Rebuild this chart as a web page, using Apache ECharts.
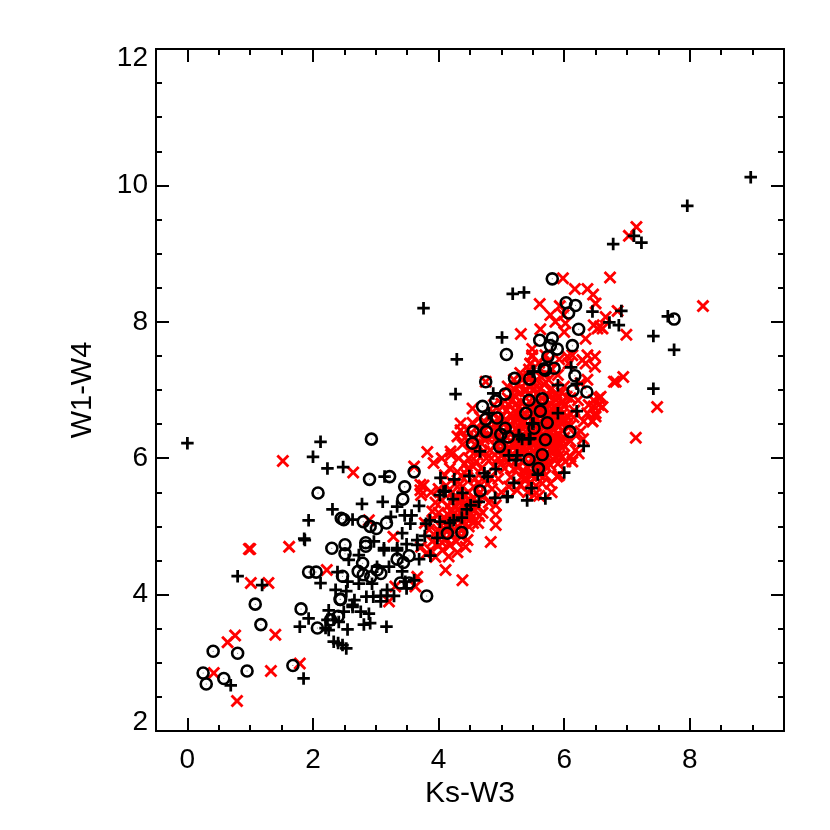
<!DOCTYPE html>
<html><head><meta charset="utf-8">
<style>html,body{margin:0;padding:0;background:#fff}#c{width:830px;height:830px}</style>
<script src="https://cdn.jsdelivr.net/npm/echarts@6/dist/echarts.min.js"></script>
</head><body><div id="c"></div>
<script>
const xMajorTicks=[0,2,4,6,8];
const xMinorTicks=[-0.5,0.5,1,1.5,2.5,3,3.5,4.5,5,5.5,6.5,7,7.5,8.5,9,9.5];
const yMajorTicks=[2,4,6,8,10,12];
const xTitle="Ks-W3", yTitle="W1-W4";
const redPoints=[[1.0,4.67],[0.98,4.67],[1.62,4.70],[2.22,4.36],[1.01,4.17],[1.29,4.17],[1.40,3.41],[0.76,3.40],[0.64,3.30],[1.79,2.99],[1.33,2.88],[0.42,2.85],[0.79,2.44],[1.52,5.96],[2.64,5.79],[2.89,5.09],[3.28,4.85],[3.82,6.09],[3.92,5.93],[3.61,5.88],[4.19,6.10],[3.71,5.61],[3.71,5.53],[3.72,5.46],[3.63,4.12],[3.31,4.12],[3.21,3.90],[4.11,4.36],[3.87,4.65],[3.66,4.26],[4.38,4.21],[4.83,4.77],[4.91,5.02],[4.91,5.17],[4.91,5.31],[4.63,5.05],[4.16,4.56],[4.43,4.70],[4.46,4.80],[4.06,4.65],[4.54,6.73],[4.35,6.51],[4.35,6.41],[4.75,7.12],[5.49,7.51],[5.46,7.39],[5.44,7.30],[5.70,7.51],[6.82,7.12],[6.58,6.90],[6.47,6.85],[6.39,6.78],[6.55,6.78],[6.37,6.66],[6.50,6.66],[6.31,6.54],[6.45,6.54],[6.26,6.39],[6.18,6.34],[6.23,6.07],[6.10,6.02],[6.02,5.95],[6.13,5.95],[5.97,6.02],[5.89,5.73],[5.78,5.63],[5.65,5.63],[5.52,5.46],[5.25,5.53],[5.98,8.64],[6.73,8.65],[6.17,8.48],[6.37,8.48],[6.46,8.40],[6.50,8.27],[5.61,8.26],[5.93,8.23],[5.78,8.10],[5.99,8.10],[5.86,8.00],[6.02,7.98],[6.00,7.85],[5.62,7.89],[5.31,7.82],[6.47,7.95],[6.57,7.93],[6.61,7.90],[6.53,7.90],[6.66,8.07],[6.85,8.16],[6.99,7.81],[6.34,7.75],[5.49,7.60],[5.49,7.49],[5.46,7.38],[6.13,7.51],[6.05,7.49],[6.07,7.39],[6.37,7.51],[6.29,7.44],[6.49,7.49],[6.49,7.34],[6.34,7.39],[6.79,7.12],[6.94,7.19],[6.37,7.15],[6.26,7.10],[7.15,9.39],[7.03,9.26],[8.21,8.23],[7.48,6.75],[7.14,6.30],[6.55,6.88],[6.61,6.75],[6.47,6.76],[6.50,6.61],[6.45,6.54],
[3.72,4.70],[3.80,4.60],[3.90,4.78],[3.95,4.55],[4.00,4.72],[4.05,4.85],[4.10,4.95],[3.85,4.95],[3.78,5.05],[3.92,5.10],[4.00,5.20],[4.10,5.12],[4.18,5.02],[4.22,4.88],[4.28,4.78],[4.30,5.00],[4.35,5.20],[4.25,5.30],[4.15,5.30],[4.05,5.38],[3.95,5.35],[3.88,5.50],[3.76,5.60],[4.00,5.55],[4.12,5.60],[4.22,5.50],[4.30,5.42],[4.42,5.35],[4.50,5.20],[4.55,5.05],[4.38,5.58],[4.48,5.50],[4.55,5.42],[4.62,5.30],[4.70,5.20],[4.72,5.45],[4.66,5.60],[4.58,5.70],[4.45,5.75],[4.30,5.80],[4.18,5.85],[4.10,5.75],[4.05,6.00],[4.20,6.05],[4.32,6.00],[4.42,5.92],[4.55,5.88],[4.68,5.85],[4.78,5.62],[4.85,5.55],[4.80,5.35],[4.95,5.70],[4.88,5.88],[4.76,6.00],[4.62,6.05],[4.50,6.12],[4.38,6.20],[4.30,6.32],[4.42,6.30],[4.55,6.30],[4.68,6.22],[4.82,6.12],[4.95,6.00],[5.05,5.85],[5.15,5.72],[5.30,5.60],[5.40,5.70],[5.55,5.60],[5.70,5.75],
[4.60,6.45],[4.72,6.40],[4.85,6.32],[4.98,6.22],[5.10,6.08],[5.22,5.95],[5.35,5.82],[5.48,5.74],[5.62,5.86],[5.78,5.90],[5.90,5.92],[5.10,5.95],[5.00,5.92],[4.90,6.50],[4.80,6.62],[4.66,6.60],[5.02,6.62],[5.14,6.50],[5.26,6.40],[5.38,6.22],[5.50,6.10],[5.62,5.98],[5.75,6.05],[5.88,6.12],[6.00,6.18],[5.12,6.78],[5.00,6.80],[4.88,6.78],[5.24,6.66],[5.36,6.55],[5.48,6.40],[5.60,6.25],[5.72,6.20],[5.85,6.32],[5.98,6.40],[6.10,6.48],[5.20,6.92],[5.32,6.82],[5.44,6.70],[5.56,6.58],[5.68,6.45],[5.80,6.50],[5.92,6.60],[6.04,6.62],[6.16,6.70],[5.26,7.08],[5.38,6.98],[5.50,6.88],[5.62,6.76],[5.74,6.66],[5.86,6.76],[5.98,6.82],[6.10,6.88],[6.22,6.85],[5.10,7.05],[5.35,7.20],[5.50,7.10],[5.62,7.02],[5.75,6.92],[5.88,6.95],[6.00,7.05],[5.62,7.20],[5.75,7.15],[5.90,7.22],[5.40,7.00],[5.15,6.35],[5.28,6.20],[5.42,6.05],[5.55,5.95],[5.68,6.12],[5.82,6.22],[5.95,6.28],[5.05,6.08],[5.18,6.22],[5.32,6.08],[5.45,5.92],[5.58,6.35],[5.70,6.32],[5.18,6.62],[5.30,6.52],[5.42,6.42],[5.54,6.22],[5.66,6.58],[5.78,6.38],[5.90,6.48],[5.28,6.75],[5.52,6.66],[5.64,6.88],[5.78,6.80],[5.90,6.88],[4.95,6.42],[4.78,6.30],[4.58,6.20],[5.92,5.75],[5.80,5.50],[5.60,5.45],[5.42,5.50],[5.12,5.58],[5.00,5.50],[6.10,6.25],[6.18,6.12],[6.30,6.28],[6.02,6.55],[6.15,6.60],[5.60,7.40],[5.75,7.42],[5.92,7.45],[5.30,7.25],[5.20,7.15],
[4.02,4.92],[4.08,5.05],[4.14,5.18],[4.20,5.10],[4.26,4.95],[4.32,5.10],[4.38,5.05],[4.44,5.12],[4.40,5.28],[4.32,5.25],[4.20,5.22],[4.12,4.82],[4.18,4.72],[4.30,4.62],[4.36,4.85],[4.48,5.00],[4.50,5.36],[4.58,5.24],[4.65,5.15],[4.56,5.58],[4.64,5.48],[4.42,5.46],[4.34,5.62],[4.26,5.62],[4.70,5.70],[4.82,5.72],[4.60,5.95],[4.48,6.00],[4.72,6.10],[4.84,6.00],[4.90,6.18],
[4.92,6.30],[4.98,6.12],[5.04,6.00],[5.08,6.20],[5.12,6.42],[5.06,6.52],[4.96,6.70],[5.08,6.70],[5.16,6.84],[5.24,6.80],[5.22,6.52],[5.20,6.30],[5.24,6.12],[5.26,5.86],[5.34,5.96],[5.36,6.16],[5.34,6.32],[5.32,6.62],[5.38,6.76],[5.30,6.96],[5.38,7.10],[5.44,7.20],[5.46,6.94],[5.48,6.80],[5.42,6.60],[5.44,6.34],[5.46,6.16],[5.50,6.00],[5.52,5.84],[5.58,6.04],[5.54,6.30],[5.54,6.48],[5.56,6.72],[5.56,6.94],[5.56,7.14],[5.60,6.50],[5.62,6.18],[5.64,6.34],[5.68,6.68],[5.70,6.84],[5.68,7.08],[5.72,6.02],[5.72,6.26],[5.74,6.42],[5.76,6.58],[5.80,6.72],[5.80,7.02],[5.82,6.10],[5.84,6.42],[5.84,6.62],[5.86,6.02],[5.92,6.20],[5.94,6.72],[5.96,6.96],[6.00,6.30],[6.04,6.48],[5.68,5.92],[5.60,5.76],[5.44,5.62],[5.32,5.72],[5.20,5.84],[5.00,6.28],[4.88,6.42],[4.74,6.52],[4.64,6.34],[4.86,6.68],[4.78,6.48],
[5.02,6.38],[5.10,6.14],[5.16,6.02],[5.28,6.02],[5.30,6.26],[5.24,6.44],[5.28,6.58],[5.14,6.64],[5.10,6.88],[5.22,7.00],[5.32,6.70],[5.40,6.48],[5.40,6.28],[5.40,6.12],[5.42,5.86],[5.50,6.22],[5.50,6.56],[5.50,6.74],[5.44,7.06],[5.52,7.02],[5.60,6.84],[5.60,6.64],[5.60,6.40],[5.60,6.10],[5.66,6.24],[5.66,6.00],[5.68,6.76],[5.72,6.50],[5.72,6.94],[5.78,6.14],[5.78,6.28],[5.78,6.46],[5.78,6.64],[5.84,6.18],[5.86,6.50],[5.86,6.86],[5.90,6.34],[5.92,6.04],[5.96,6.50],[5.96,6.64],[6.00,6.76],[6.04,6.90],[5.70,7.24],[5.80,7.30],[5.46,5.78],[5.56,5.84],[5.70,5.88],[5.36,5.70],[5.20,6.18],[4.94,6.58],[4.72,6.28],[4.54,6.52],[4.46,6.42],[4.62,6.16],[4.46,5.84],[4.36,5.74],[4.26,5.20],[4.14,5.00],[4.06,4.76],[4.24,5.40],[4.34,5.34],[4.44,5.20],[4.52,5.12],[3.96,4.92],[3.90,5.22],[4.28,5.12],[4.36,4.94]];
const plusPoints=[[0.80,4.27],[1.19,4.14],[0.69,2.67],[1.85,2.77],[1.87,4.80],[1.93,3.65],[1.79,3.53],[2.12,4.17],[2.39,4.33],[2.55,4.19],[2.36,4.07],[2.53,4.05],[2.57,4.51],[2.63,3.85],[2.49,3.75],[2.25,3.77],[2.23,3.63],[2.20,3.51],[2.25,3.48],[2.33,3.63],[2.41,3.60],[2.55,3.49],[2.33,3.31],[2.40,3.29],[2.47,3.26],[2.53,3.21],[2.12,6.24],[2.00,6.02],[2.23,5.85],[2.48,5.87],[3.14,5.73],[4.03,5.71],[4.02,5.46],[4.11,5.52],[2.78,5.33],[3.11,5.36],[3.34,5.29],[3.69,5.30],[2.31,5.25],[1.93,5.09],[2.63,5.10],[1.86,4.82],[3.46,5.16],[3.57,5.16],[3.55,5.04],[3.24,5.14],[3.86,5.09],[4.02,5.07],[3.80,5.04],[3.78,4.86],[3.98,4.83],[3.42,4.90],[3.13,4.68],[3.34,4.68],[3.49,4.74],[3.66,4.73],[2.73,4.58],[2.97,4.78],[3.13,4.65],[3.34,4.65],[3.87,4.57],[3.69,4.52],[3.21,4.41],[3.02,4.41],[2.73,4.16],[2.94,4.16],[3.42,4.34],[3.47,4.19],[3.61,4.21],[3.49,4.09],[3.18,4.07],[2.85,3.97],[2.96,3.97],[3.08,3.98],[3.18,3.98],[3.29,3.98],[3.08,3.90],[2.66,3.92],[2.63,3.82],[2.76,3.75],[2.89,3.72],[2.91,3.58],[2.81,3.56],[3.17,3.53],[4.25,5.69],[4.49,5.74],[4.73,5.78],[4.78,5.73],[4.91,5.84],[4.38,5.49],[4.23,5.40],[4.08,5.51],[4.64,5.36],[4.90,5.42],[5.09,5.43],[5.41,5.38],[5.20,5.64],[5.12,6.04],[5.25,6.04],[5.23,5.97],[4.66,6.10],[4.51,5.31],[4.45,5.25],[4.37,5.13],[4.24,5.09],[4.18,5.05],[3.66,4.80],[4.29,7.45],[4.27,6.94],[4.87,6.95],[5.52,7.27],[5.28,6.32],[5.46,6.29],[5.49,6.51],[4.80,6.66],[5.90,7.07],[6.20,7.09],[5.90,6.66],[6.20,6.69],[6.31,6.18],[6.00,5.79],[5.58,5.76],[5.48,5.56],[5.70,5.41],[5.10,5.44],[5.44,6.28],[5.33,6.28],[5.28,6.34],[5.51,6.51],[5.18,8.41],[5.36,8.43],[6.45,8.15],[6.91,8.16],[6.72,7.99],[6.87,7.95],[5.01,7.77],[5.50,7.27],[6.11,7.33],[8.97,10.12],[7.96,9.70],[6.78,9.14],[7.11,9.26],[7.23,9.16],[7.65,8.08],[7.42,7.79],[7.75,7.59],[7.42,7.02],[0,6.22],[3.76,8.20]];
const circlePoints=[[1.08,3.86],[1.17,3.56],[1.81,3.79],[2.07,3.51],[0.41,3.17],[0.80,3.14],[0.25,2.85],[0.30,2.69],[0.58,2.77],[0.95,2.88],[1.68,2.96],[2.30,4.68],[2.51,4.73],[2.51,4.60],[1.93,4.33],[2.05,4.33],[2.47,4.27],[2.43,3.93],[2.40,3.68],[2.93,6.28],[2.90,5.69],[3.22,5.73],[3.61,5.80],[3.46,5.58],[3.43,5.40],[2.08,5.49],[2.45,5.12],[2.49,5.10],[2.80,5.07],[2.91,5.00],[3.01,4.97],[3.17,5.05],[2.84,4.76],[2.84,4.71],[2.79,4.46],[2.72,4.34],[2.80,4.29],[2.92,4.26],[3.08,4.31],[3.02,4.36],[2.44,3.93],[2.28,3.63],[3.34,4.52],[3.44,4.47],[3.53,4.57],[3.39,4.17],[3.53,4.17],[3.81,3.98],[4.66,5.52],[4.14,4.90],[4.37,4.91],[4.54,6.22],[4.97,6.17],[5.44,5.98],[5.08,7.52],[4.75,7.12],[5.21,7.17],[5.45,7.16],[5.70,7.29],[5.06,6.94],[4.91,6.84],[4.70,6.76],[5.44,6.85],[5.65,6.87],[5.62,6.69],[5.39,6.66],[4.93,6.59],[4.75,6.57],[5.73,6.52],[5.52,6.44],[5.06,6.44],[4.76,6.39],[4.55,6.39],[4.99,6.35],[5.11,6.31],[5.70,6.27],[6.14,6.99],[6.36,6.97],[6.09,6.39],[5.65,6.05],[5.59,5.85],[5.81,8.63],[6.03,8.28],[6.18,8.24],[6.07,8.13],[6.23,7.89],[5.61,7.73],[5.81,7.76],[5.78,7.65],[5.89,7.60],[6.13,7.65],[5.74,7.49],[5.68,7.31],[5.84,7.32],[6.17,7.21],[7.75,8.04]];

const plusPath='path://M0 3.9H3.9V0H6.1V3.9H10V6.1H6.1V10H3.9V6.1H0Z';
const crossPath='path://M1.55 0L5 3.45L8.45 0L10 1.55L6.55 5L10 8.45L8.45 10L5 6.55L1.55 10L0 8.45L3.45 5L0 1.55Z';
const black='#000', font='"Liberation Sans",Arial,sans-serif';
const lineStyle={color:black,width:2};
const baseX={type:'value',min:-0.5,max:9.5,splitLine:{show:false},axisLine:{show:true,onZero:false,lineStyle}};
const baseY={type:'value',min:2,max:12,interval:2,splitLine:{show:false},axisLine:{show:true,onZero:false,lineStyle}};
const rect={left:156,top:49,width:628,height:682};
const mk=(o,x)=>Object.assign({},o,x);
const chart=echarts.init(document.getElementById('c'),null,{renderer:'canvas'});
chart.setOption({
 animation:false,backgroundColor:'#fff',
 grid:[rect,rect],
 xAxis:[
  mk(baseX,{gridIndex:0,position:'bottom',name:xTitle,nameLocation:'middle',nameGap:44,nameTextStyle:{fontSize:30,color:black,fontFamily:font},
    axisTick:{show:true,inside:true,length:13,lineStyle,customValues:xMajorTicks},
    axisLabel:{show:true,fontSize:28,color:black,fontFamily:font,margin:15,customValues:xMajorTicks}}),
  mk(baseX,{gridIndex:0,position:'top',axisTick:{show:true,inside:true,length:13,lineStyle,customValues:xMajorTicks},axisLabel:{show:false}}),
  mk(baseX,{gridIndex:1,position:'bottom',axisTick:{show:true,inside:true,length:6,lineStyle,customValues:xMinorTicks},axisLabel:{show:false}}),
  mk(baseX,{gridIndex:1,position:'top',axisTick:{show:true,inside:true,length:6,lineStyle,customValues:xMinorTicks},axisLabel:{show:false}})
 ],
 yAxis:[
  mk(baseY,{gridIndex:0,position:'left',name:yTitle,nameLocation:'middle',nameGap:59,nameTextStyle:{fontSize:29,color:black,fontFamily:font},
    axisTick:{show:true,inside:true,length:13,lineStyle},minorTick:{show:true,splitNumber:4,length:6,lineStyle},
    axisLabel:{show:true,fontSize:28,lineHeight:18,color:black,fontFamily:font,margin:8,customValues:yMajorTicks,verticalAlignMinLabel:'bottom',verticalAlignMaxLabel:'top'}}),
  mk(baseY,{gridIndex:0,position:'right',axisTick:{show:true,inside:true,length:13,lineStyle},minorTick:{show:true,splitNumber:4,length:6,lineStyle},axisLabel:{show:false}}),
  mk(baseY,{gridIndex:1,position:'left',show:false}),
  mk(baseY,{gridIndex:1,position:'right',show:false})
 ],
 series:[
  {type:'scatter',xAxisIndex:0,yAxisIndex:0,data:redPoints,symbol:crossPath,symbolSize:13,itemStyle:{color:'#ff0000',opacity:1},silent:true,z:2},
  {type:'scatter',xAxisIndex:0,yAxisIndex:0,data:plusPoints,symbol:plusPath,symbolSize:12.5,itemStyle:{color:black,opacity:1},silent:true,z:3},
  {type:'scatter',xAxisIndex:0,yAxisIndex:0,data:circlePoints,symbol:'circle',symbolSize:11,itemStyle:{color:'transparent',borderColor:black,borderWidth:2.6,opacity:1},silent:true,z:4},
  {type:'scatter',xAxisIndex:0,yAxisIndex:0,data:circlePoints,symbol:'circle',symbolSize:1,itemStyle:{color:'#555',opacity:1},silent:true,z:5}
 ]
});
</script></body></html>
